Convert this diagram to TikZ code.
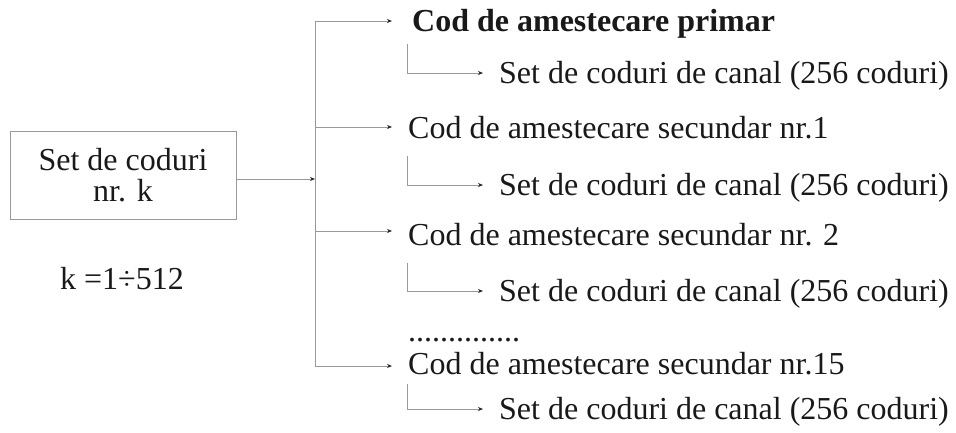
\documentclass[tikz,border=0pt]{standalone}
\usepackage{fontspec}
\setmainfont{Liberation Serif}
\usetikzlibrary{arrows.meta}
\begin{document}
\begin{tikzpicture}[x=1pt,y=-1pt,
  txt/.style={font=\fontsize{32}{33}\selectfont, inner sep=0pt, anchor=base west, text=black!90},
  boxst/.style={draw=black!40, line width=0.9pt, minimum width=226pt, minimum height=88pt, align=center, inner sep=0pt, font=\fontsize{32}{33}\selectfont, text=black!90},
  ln/.style={draw=black!40, line width=0.9pt},
  arr/.style={ln, -{Stealth[length=5pt,width=4pt,black!85]}}]
\useasboundingbox (0,0) rectangle (956,432);
% input box
\node[boxst] (box) at (123,175) {Set de coduri\\[-2pt]nr. k};
\node[txt, anchor=base] (klab) at (122,289) {k =1÷512};
% spine
\coordinate (jin) at (315,179);
\coordinate (j1) at (315,21);
\coordinate (j2) at (315,127);
\coordinate (j3) at (315,231);
\coordinate (j4) at (315,366);
\draw[ln] (j1) -- (j4);
\draw[arr] (box.east |- jin) -- (jin);
% main texts
\node[txt, font=\fontsize{32}{33}\selectfont\bfseries] (t1) at (412,31) {Cod de amestecare primar};
\node[txt] (t2) at (408,138) {Cod de amestecare secundar nr.1};
\node[txt] (t3) at (408,245) {Cod de amestecare secundar nr. 2};
\node[txt] (dots) at (408,341) {..............};
\node[txt] (t4) at (408,374) {Cod de amestecare secundar nr.15};
% branch arrows
\coordinate (a1) at (392,21);
\coordinate (a2) at (392,127);
\coordinate (a3) at (392,231);
\coordinate (a4) at (392,366);
\draw[arr] (j1) -- (a1);
\draw[arr] (j2) -- (a2);
\draw[arr] (j3) -- (a3);
\draw[arr] (j4) -- (a4);
% sub texts
\node[txt] (s1) at (499,83) {Set de coduri de canal (256 coduri)};
\node[txt] (s2) at (499,195) {Set de coduri de canal (256 coduri)};
\node[txt] (s3) at (499,301) {Set de coduri de canal (256 coduri)};
\node[txt] (s4) at (499,419) {Set de coduri de canal (256 coduri)};
% sub brackets
\coordinate (b1) at (407,44);  \coordinate (c1) at (483,73);
\coordinate (b2) at (407,156); \coordinate (c2) at (483,185);
\coordinate (b3) at (407,263); \coordinate (c3) at (483,291);
\coordinate (b4) at (407,384); \coordinate (c4) at (483,409);
\draw[arr] (b1) |- (c1);
\draw[arr] (b2) |- (c2);
\draw[arr] (b3) |- (c3);
\draw[arr] (b4) |- (c4);
\end{tikzpicture}
\end{document}
